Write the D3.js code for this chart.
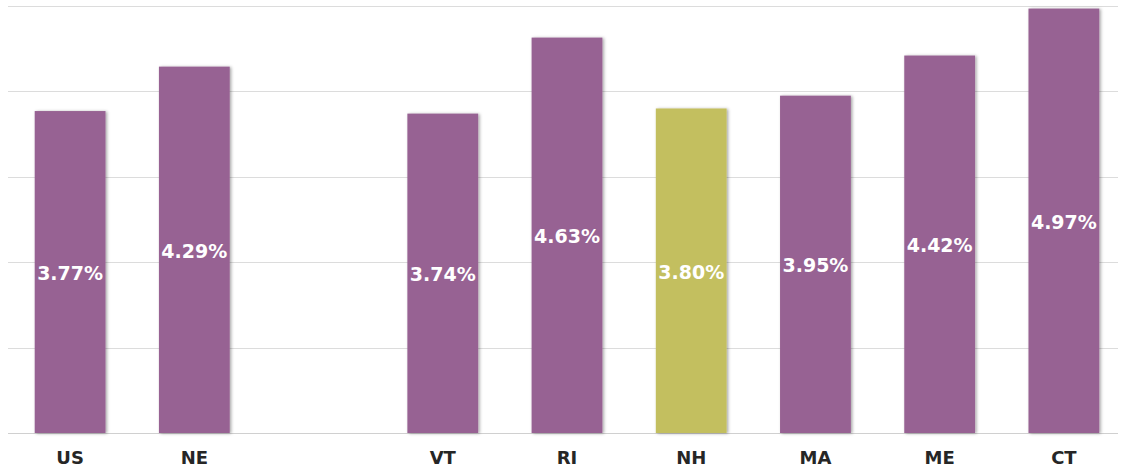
<!DOCTYPE html>
<html>
<head>
<meta charset="utf-8">
<script src="https://cdn.jsdelivr.net/npm/d3@7"></script>
<style>
  html, body { margin: 0; padding: 0; background: #fff; }
  svg { display: block; }
</style>
</head>
<body>
<div id="chart"></div>
<script>
// categories (blank slot between NE and VT)
const categories = ['US', 'NE', '', 'VT', 'RI', 'NH', 'MA', 'ME', 'CT'];
const values = [3.77, 4.29, null, 3.74, 4.63, 3.80, 3.95, 4.42, 4.97];
const highlight = ['NH'];
const yTicks = [0, 1, 2, 3, 4, 5];

const width = 1121;
const height = 470;
const plotLeft = 8, plotRight = 1118, plotTop = 6, plotBottom = 433;

const svg = d3.select('#chart').append('svg').attr('width', width).attr('height', height);

const defs = svg.append('defs');
const shadow = defs.append('filter').attr('id', 'shadow')
  .attr('x', '-20%').attr('y', '-5%').attr('width', '140%').attr('height', '110%');
shadow.append('feDropShadow')
  .attr('dx', 1.5).attr('dy', 0.5).attr('stdDeviation', 1.6)
  .attr('flood-color', '#000').attr('flood-opacity', 0.35);

const x = d3.scaleBand().domain(categories.map((d, i) => i)).range([8, 1126]).paddingInner(0.43).paddingOuter(0.215);
const y = d3.scaleLinear().domain([0, 5]).range([plotBottom, plotTop]);

// gridlines
svg.append('g').attr('class', 'grid')
  .selectAll('line')
  .data(yTicks)
  .enter()
  .append('line')
  .attr('x1', plotLeft)
  .attr('x2', plotRight)
  .attr('y1', (d) => Math.round(y(d)) + 0.5)
  .attr('y2', (d) => Math.round(y(d)) + 0.5)
  .attr('stroke', (d) => (d === 0 ? '#d0d0d0' : '#dcdcdc'))
  .attr('stroke-width', 1);

const data = categories.map((c, i) => ({ c, i, v: values[i] })).filter((d) => d.v !== null);

// bars
svg.append('g').attr('class', 'bars')
  .selectAll('rect')
  .data(data)
  .enter()
  .append('rect')
  .attr('x', (d) => x(d.i))
  .attr('y', (d) => y(d.v))
  .attr('width', x.bandwidth())
  .attr('height', (d) => y(0) - y(d.v))
  .attr('fill', (d) => (highlight.includes(d.c) ? '#c3bf5f' : '#976293'))
  .attr('filter', 'url(#shadow)');

// value labels
svg.append('g').attr('class', 'values')
  .selectAll('text')
  .data(data)
  .enter()
  .append('text')
  .attr('x', (d) => x(d.i) + x.bandwidth() / 2)
  .attr('y', (d) => (y(d.v) + y(0)) / 2 + 1)
  .attr('dy', '0.36em')
  .attr('text-anchor', 'middle')
  .attr('fill', '#fff')
  .attr('font-family', 'DejaVu Sans, Verdana, sans-serif')
  .attr('font-weight', 'bold')
  .attr('font-size', '19px')
  .text((d) => `${d.v.toFixed(2)}%`);

// category labels
svg.append('g').attr('class', 'cats')
  .selectAll('text')
  .data(data)
  .enter()
  .append('text')
  .attr('x', (d) => x(d.i) + x.bandwidth() / 2)
  .attr('y', 458)
  .attr('dy', '0.36em')
  .attr('text-anchor', 'middle')
  .attr('fill', '#262626')
  .attr('font-family', 'DejaVu Sans, Verdana, sans-serif')
  .attr('font-weight', 'bold')
  .attr('font-size', '18px')
  .text((d) => d.c);
</script>
</body>
</html>
